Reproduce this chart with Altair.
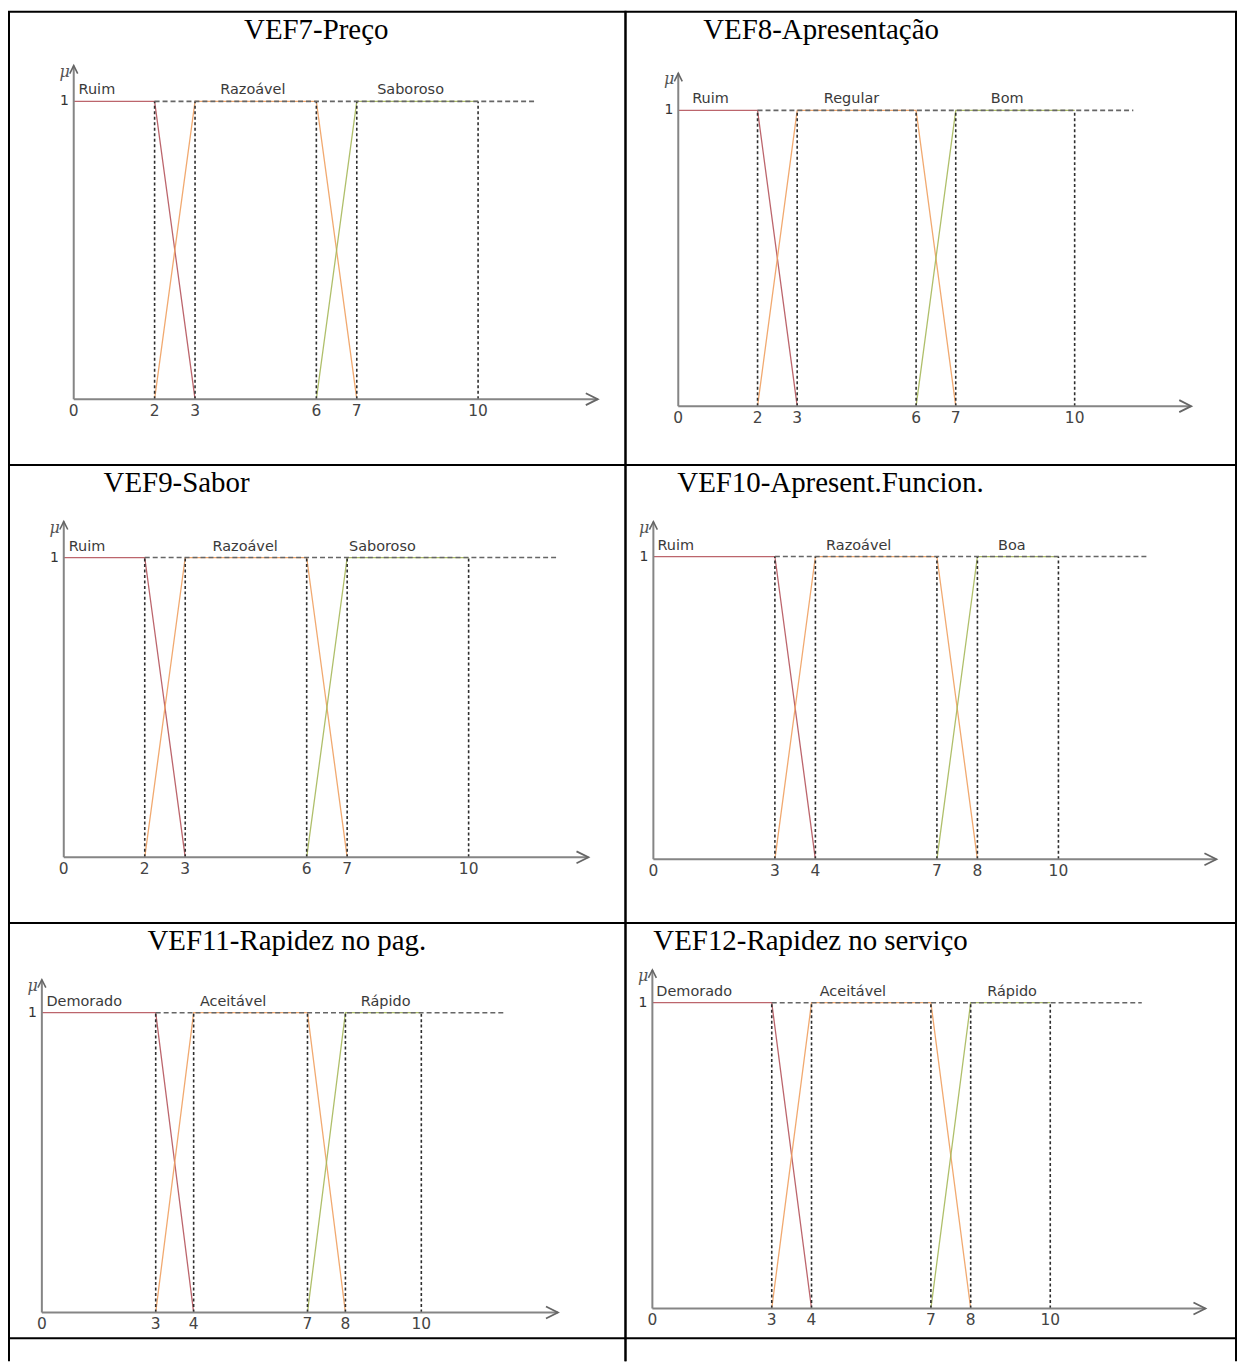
import altair as alt
import pandas as pd

# ---------------- values ----------------
titles = [
    "VEF7-Preço",
    "VEF8-Apresentação",
    "VEF9-Sabor",
    "VEF10-Apresent.Funcion.",
    "VEF11-Rapidez no pag.",
    "VEF12-Rapidez no serviço",
]
set_names = [
    ["Ruim", "Razoável", "Saboroso"],
    ["Ruim", "Regular", "Bom"],
    ["Ruim", "Razoável", "Saboroso"],
    ["Ruim", "Razoável", "Boa"],
    ["Demorado", "Aceitável", "Rápido"],
    ["Demorado", "Aceitável", "Rápido"],
]
breakpoints = [
    [2, 3, 6, 7],
    [2, 3, 6, 7],
    [2, 3, 6, 7],
    [3, 4, 7, 8],
    [3, 4, 7, 8],
    [3, 4, 7, 8],
]
universe_max = [10, 10, 10, 10, 10, 10]
set_label_x = [
    [0.12, 4.43, 8.33],
    [0.35, 4.37, 8.30],
    [0.12, 4.48, 7.87],
    [0.10, 5.07, 8.85],
    [0.12, 5.04, 9.06],
    [0.10, 5.04, 9.04],
]
axis_end = [12.96, 12.94, 12.96, 13.9, 13.6, 13.9]
dash_end = [11.43, 11.48, 12.2, 12.2, 12.2, 12.3]
axis_top = [1.12, 1.125, 1.12, 1.115, 1.11, 1.107]

roles = ["low", "mid", "high"]
role_colors = ["#b5545c", "#f0a060", "#a6b85a"]

# ---------------- layout (page pixels) ----------------
cells = [
    dict(L=8, W=619, T=8, H=455, px0=73, s=40.6, py0=397, py1=98, tx=244),
    dict(L=627, W=613, T=8, H=455, px0=680, s=39.8, py0=404, py1=107, tx=705),
    dict(L=8, W=619, T=463, H=460, px0=63, s=40.65, py0=857, py1=556, tx=103),
    dict(L=627, W=613, T=463, H=460, px0=655, s=40.67, py0=859, py1=555, tx=679),
    dict(L=8, W=619, T=923, H=417, px0=41, s=38.1, py0=1314, py1=1013, tx=147),
    dict(L=627, W=613, T=923, H=417, px0=654, s=39.95, py0=1310, py1=1003, tx=655),
]
TITLE_BASE = 27
LAB_FONT = "DejaVu Sans"


def build_panel(i):
    c = cells[i]
    a, b, cc, d = breakpoints[i]
    m = universe_max[i]
    names = set_names[i]
    xmin = (c["L"] - c["px0"]) / c["s"]
    xmax = (c["L"] + c["W"] - c["px0"]) / c["s"]
    u = c["py0"] - c["py1"]
    ymin = -(c["T"] + c["H"] - c["py0"]) / u
    ymax = (c["py0"] - c["T"]) / u
    xs = alt.Scale(domain=[xmin, xmax], nice=False, zero=False)
    ys = alt.Scale(domain=[ymin, ymax], nice=False, zero=False)

    def X(f):
        return alt.X(f, type="quantitative", scale=xs, axis=None)

    def Y(f):
        return alt.Y(f, type="quantitative", scale=ys, axis=None)

    mf = pd.DataFrame({
        "role": [roles[0]] * 3 + [roles[1]] * 4 + [roles[2]] * 3,
        "x": [0, a, b, a, b, cc, d, cc, d, m],
        "mu": [1, 1, 0, 0, 1, 1, 0, 0, 1, 1],
        "k": [0, 1, 2, 0, 1, 2, 3, 0, 1, 2],
    })
    lines = alt.Chart(mf).mark_line(strokeWidth=1.3, opacity=0.9).encode(
        x=X("x"), y=Y("mu"), detail="role:N", order="k:Q",
        color=alt.Color("role:N", scale=alt.Scale(domain=roles, range=role_colors), legend=None),
    )

    vd = pd.DataFrame({"x": [a, b, cc, d, m], "y0": [0] * 5, "y1": [1] * 5})
    vrules = alt.Chart(vd).mark_rule(color="#2e2e2e", strokeDash=[3, 2.5], strokeWidth=1.6).encode(
        x=X("x"), y=Y("y0"), y2=alt.Y2("y1"))

    hd = pd.DataFrame({"x": [a], "x2": [dash_end[i]], "y": [1]})
    hrule = alt.Chart(hd).mark_rule(color="#666666", strokeDash=[5, 3], strokeWidth=1.6).encode(
        x=X("x"), x2=alt.X2("x2"), y=Y("y"))

    ax = pd.DataFrame({"x": [0, 0], "x2": [axis_end[i], 0], "y": [0, 0], "y2": [0, axis_top[i]]})
    axes = alt.Chart(ax).mark_rule(color="#858585", strokeWidth=2).encode(
        x=X("x"), x2=alt.X2("x2"), y=Y("y"), y2=alt.Y2("y2"))

    arr_r = alt.Chart(pd.DataFrame({"x": [axis_end[i]], "y": [0]})).mark_point(
        shape="M -1 -0.5 L 0 0 L -1 0.5", filled=False, size=576, color="#666666",
        strokeWidth=1.8, opacity=1).encode(x=X("x"), y=Y("y"))
    arr_u = alt.Chart(pd.DataFrame({"x": [0], "y": [axis_top[i]]})).mark_point(
        shape="M -0.5 1 L 0 0 L 0.5 1", filled=False, size=256, color="#666666",
        strokeWidth=1.6, opacity=1).encode(x=X("x"), y=Y("y"))

    ticks = [0, a, b, cc, d, m]
    td = pd.DataFrame({"x": ticks, "y": [0] * 6, "t": [str(v) for v in ticks]})
    tick_text = alt.Chart(td).mark_text(baseline="top", dy=5, font=LAB_FONT, fontSize=15.5,
                                        color="#444444").encode(x=X("x"), y=Y("y"), text="t:N")

    one = alt.Chart(pd.DataFrame({"x": [0], "y": [1], "t": ["1"]})).mark_text(
        align="right", baseline="middle", dx=-5, font=LAB_FONT, fontSize=14, color="#333333"
    ).encode(x=X("x"), y=Y("y"), text="t:N")
    mu = alt.Chart(pd.DataFrame({"x": [0], "y": [axis_top[i]], "t": ["μ"]})).mark_text(
        align="right", baseline="top", dx=-4, dy=-2, font="DejaVu Serif", fontStyle="italic",
        fontSize=16, color="#555555").encode(x=X("x"), y=Y("y"), text="t:N")

    sd = pd.DataFrame({"x": set_label_x[i], "y": [1] * 3, "t": names, "k": [0, 1, 2]})
    set_first = alt.Chart(sd).transform_filter("datum.k == 0").mark_text(
        align="left", baseline="bottom", dy=-4, font=LAB_FONT, fontSize=14.5, color="#3a3a3a"
    ).encode(x=X("x"), y=Y("y"), text="t:N")
    set_rest = alt.Chart(sd).transform_filter("datum.k > 0").mark_text(
        align="center", baseline="bottom", dy=-4, font=LAB_FONT, fontSize=14.5, color="#3a3a3a"
    ).encode(x=X("x"), y=Y("y"), text="t:N")

    title = alt.Chart(pd.DataFrame({"t": [titles[i]]})).mark_text(
        align="left", baseline="alphabetic", font="Liberation Serif", fontSize=29, color="black"
    ).encode(x=alt.value(c["tx"] - c["L"]), y=alt.value(TITLE_BASE), text="t:N")

    return alt.layer(lines, vrules, hrule, axes, arr_r, arr_u, tick_text, one, mu,
                     set_first, set_rest, title).properties(width=c["W"], height=c["H"])


def empty_cell(w, h):
    d = pd.DataFrame({"v": [0, w]})
    r = alt.Chart(d).mark_rule(color="black", strokeWidth=2).encode(
        x=alt.X("v:Q", scale=alt.Scale(domain=[0, w], range=[0, w], nice=False), axis=None),
        y=alt.value(0), y2=alt.value(h))
    return r.properties(width=w, height=h, view=alt.ViewBackground(stroke=None))


panels = [build_panel(i) for i in range(6)] + [empty_cell(619, 23), empty_cell(613, 23)]

chart = alt.concat(*panels, columns=2, spacing=0, bounds="flush").properties(
    padding=0).configure_view(stroke="black", strokeWidth=2)

chart.save("out.html", embed_options={"renderer": "svg", "actions": False})
